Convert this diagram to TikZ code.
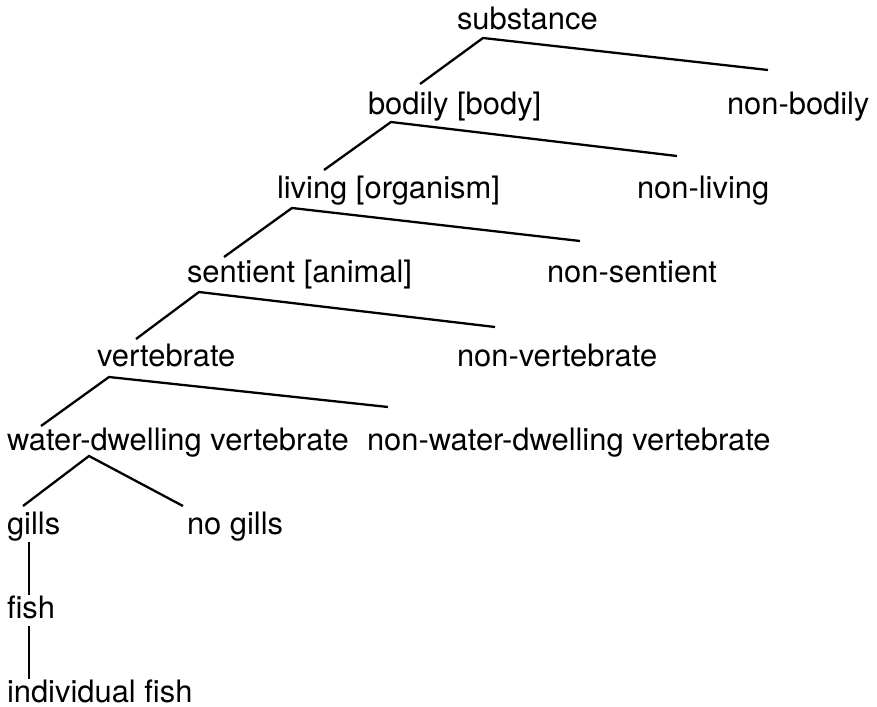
\documentclass[tikz,border=0pt]{standalone}
\usepackage{fontspec}
\setmainfont{TeX Gyre Heros}
\usetikzlibrary{calc}
\begin{document}
\begin{tikzpicture}[x=0.5pt,y=-0.5pt,
  lbl/.style={anchor=base west,inner sep=0pt,outer sep=0pt,font=\fontsize{15.45}{18}\selectfont},
  edge/.style={line width=1.15pt,line cap=butt}]
\useasboundingbox (0,0) rectangle (877,706);
% nodes
\node[lbl] (sub)  at (457,30)  {substance};
\node[lbl] (bod)  at (368,114) {bodily [body]};
\node[lbl] (nbod) at (727,114) {non-bodily};
\node[lbl] (liv)  at (277,198) {living [organism]};
\node[lbl] (nliv) at (637,198) {non-living};
\node[lbl] (sen)  at (187,282) {sentient [animal]};
\node[lbl] (nsen) at (547,282) {non-sentient};
\node[lbl] (ver)  at (97,366)  {vertebrate};
\node[lbl] (nver) at (457,366) {non-vertebrate};
\node[lbl] (wat)  at (7,450)   {water-dwelling vertebrate};
\node[lbl] (nwat) at (367,450) {non-water-dwelling vertebrate};
\node[lbl] (gil)  at (7,534)   {gills};
\node[lbl] (ngil) at (187,534) {no gills};
\node[lbl] (fsh)  at (7,618)   {fish};
\node[lbl] (ind)  at (7,702)   {individual fish};
% connectors
\draw[edge] ($(bod.base west)+(52,-30)$) -- ($(sub.base west)+(26,8)$) -- ($(nbod.base west)+(41,-44)$);
\draw[edge] ($(liv.base west)+(47,-28)$) -- ($(bod.base west)+(23,8)$) -- ($(nliv.base west)+(40,-42)$);
\draw[edge] ($(sen.base west)+(37,-25)$) -- ($(liv.base west)+(15,10)$) -- ($(nsen.base west)+(33,-41)$);
\draw[edge] ($(ver.base west)+(39,-27)$) -- ($(sen.base west)+(12,10)$) -- ($(nver.base west)+(38,-39)$);
\draw[edge] ($(wat.base west)+(34,-24)$) -- ($(ver.base west)+(12,11)$) -- ($(nwat.base west)+(21,-43)$);
\draw[edge] ($(gil.base west)+(16,-28)$) -- ($(wat.base west)+(82,6)$) -- ($(ngil.base west)+(-4,-28)$);
\draw[edge] ($(gil.base west)+(22,8)$) -- ($(fsh.base west)+(22,-23)$);
\draw[edge] ($(fsh.base west)+(22,8)$) -- ($(ind.base west)+(22,-23)$);
\end{tikzpicture}
\end{document}
